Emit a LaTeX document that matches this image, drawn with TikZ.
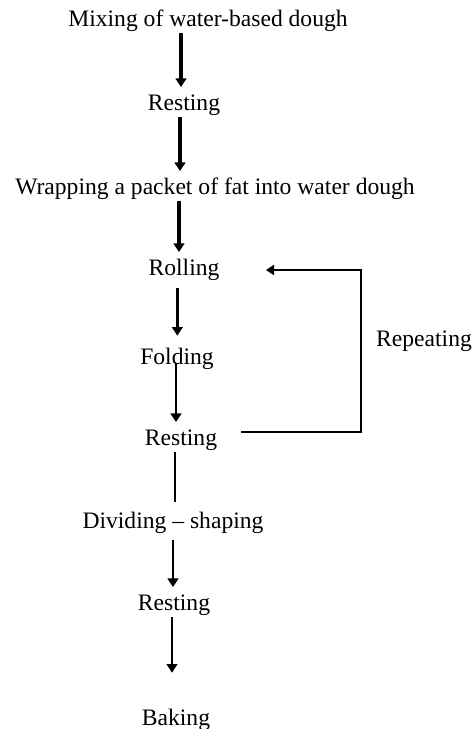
\documentclass[tikz,border=0pt]{standalone}
\usepackage{fontspec}
\setmainfont{Liberation Serif}
\usetikzlibrary{arrows.meta}

\tikzset{
  stage/.style={anchor=base,inner sep=0pt,text height=12pt,text depth=3.75pt,font=\fontsize{17.7}{20}\selectfont},
  flow/.style={line width=2pt,-{Triangle[width=8pt,length=6.5pt]},shorten >=5pt,shorten <=1pt},
  flowbold/.style={flow,line width=2.5pt},
  loopline/.style={line width=1.8pt,-{Triangle[width=7.5pt,length=6pt]}}
}

\begin{document}
\begin{tikzpicture}[x=0.75pt,y=0.75pt,yscale=-1,xscale=1]
\useasboundingbox (0,0) rectangle (474,729);

% Text Node
\node[stage] (mix) at (208,26) {Mixing of water-based dough};
% Text Node
\node[stage] (rest1) at (184,110) {Resting};
% Text Node
\node[stage] (wrap) at (215,194) {Wrapping a packet of fat into water dough};
% Text Node
\node[stage] (roll) at (184,275) {Rolling};
% Text Node
\node[stage] (fold) at (177,364) {Folding};
% Text Node
\node[stage] (rest2) at (181,445) {Resting};
% Text Node
\node[stage] (rep) at (424,346) {Repeating};
% Text Node
\node[stage] (div) at (173,528) {Dividing -- shaping};
% Text Node
\node[stage] (rest3) at (174,610) {Resting};
% Text Node
\node[stage] (bake) at (176,725) {Baking};

%Straight Lines
\draw[flowbold] ([xshift=-2.25pt]rest1.north |- mix.south) -- ([xshift=-2.25pt]rest1.north);
\draw[flowbold] ([xshift=-3pt]rest1.south) -- ([xshift=-3pt]rest1.south |- wrap.north);
\draw[flowbold] ([xshift=-3.75pt]roll.north |- wrap.south) -- ([xshift=-3.75pt]roll.north);
\draw[flow,shorten <=6pt,shorten >=9pt] ([xshift=-5pt]roll.south) -- ([xshift=-5pt]roll.south |- fold.north);
\draw[flow,shorten <=0pt] ([xshift=-0.75pt]fold.base) -- ([xshift=-0.75pt]fold.base |- rest2.north);
\draw[line width=2pt,shorten <=1.5pt,shorten >=7.5pt] ([xshift=1.5pt]div.north |- rest2.south) -- ([xshift=1.5pt]div.north);
\draw[flow,shorten <=5pt] (div.south) -- (div.south |- rest3.north);
\draw[flow,shorten <=1.5pt,shorten >=27pt] ([xshift=-1.5pt]rest3.south) -- ([xshift=-1.5pt]rest3.south |- bake.north);

%Repeating loop
\coordinate (loopin) at (241,432);
\coordinate (loopout) at (266,270);
\draw[loopline] (loopin) -- ++(120,0) |- (loopout);

\end{tikzpicture}
\end{document}
